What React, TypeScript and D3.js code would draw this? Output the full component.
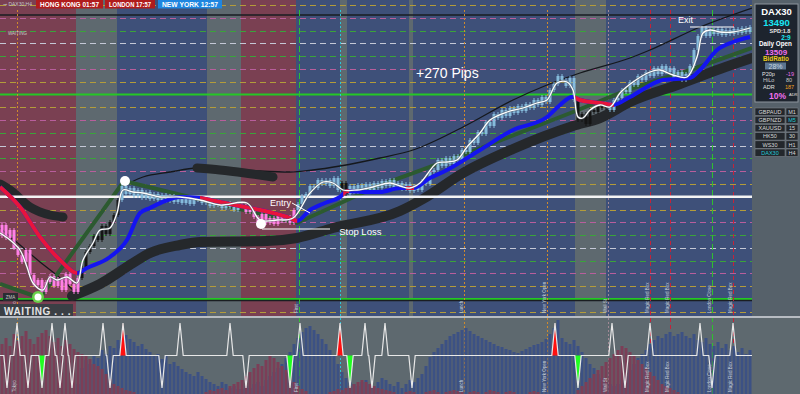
import React from 'react';
import * as d3 from 'd3';

// ---------- layout constants ----------
const WIDTH = 800;
const HEIGHT = 394;
const PLOT_RIGHT = 752;
const MAIN_BOTTOM = 316;
const IND_TOP = 318;
const BAR_COUNT = 188;

// ---------- data ----------
const priceDomain = [13200, 13516];

// session background bands (bar index ranges)
const bandStart = [0, 19, 29.25, 51.75, 60.25, 74, 85, 86.75, 102.25, 103.25, 143.75, 151.5];
const bandEnd = [19, 29.25, 51.75, 60.25, 74, 85, 86.75, 102.25, 103.25, 143.75, 151.5, 188];
const bandKind = ['asia', 'gap', 'ny', 'gap', 'asia', 'ny', 'gap', 'ny', 'gap', 'ny', 'gap', 'ny'];

// horizontal price levels
const levelPrices = [13511, 13498.2, 13485.4, 13472.7, 13459.9, 13447.1, 13434.3, 13421.5, 13408.8, 13396, 13383.2, 13370.4, 13357.6, 13344.9, 13332.1, 13319.3, 13306.5, 13293.7, 13280.9, 13268.2, 13255.4, 13242.6, 13229.8, 13217, 13204.2];
const levelKinds = ['olive', 'pink', 'green', 'white', 'green', 'pink', 'olive', 'solidGreen', 'olive', 'pink', 'green', 'white', 'green', 'pink', 'olive', 'entry', 'olive', 'pink', 'green', 'white', 'green', 'pink', 'olive', 'solidGreen', 'olive'];
const blackLevels = [13501, 13215.5];

// vertical session markers
const markerBars = [4.25, 74.75, 85, 116, 136.75, 152, 162.5, 167.5, 178, 183.25];
const markerKinds = ['orange', 'green', 'cyan', 'orange', 'orange', 'grey', 'red', 'red', 'green', 'red'];
const markerLabels = ['Tokyo', 'First', '', 'Lunch', 'New York Open', 'Wall St', 'Magic Red Box', 'Magic Red Box', 'London Close', 'Magic Red Box'];

// candle closes (open = previous close)
const firstOpen = 13280;
const closes = [
  13291, 13278, 13286, 13268, 13261, 13254, 13266, 13241, 13231, 13236,
  13224, 13234, 13240, 13230, 13237, 13226, 13242, 13232, 13224, 13238,
  13248, 13264, 13270, 13280, 13276, 13290, 13282, 13294, 13301, 13316,
  13330, 13322, 13328, 13320, 13326, 13318, 13324, 13317, 13322, 13316,
  13321, 13315, 13320, 13314, 13319, 13313, 13317, 13312, 13316, 13318,
  13313, 13317, 13310, 13315, 13311, 13308, 13313, 13309, 13306, 13311,
  13310, 13304, 13307, 13299, 13294, 13302, 13293, 13298, 13292, 13300,
  13295, 13299, 13293, 13306, 13312, 13320, 13322, 13330, 13328, 13336,
  13332, 13336, 13330, 13338, 13326, 13333, 13322, 13330, 13324, 13331,
  13325, 13332, 13326, 13333, 13328, 13335, 13330, 13336, 13328, 13333,
  13327, 13332, 13325, 13330, 13326, 13335, 13332, 13344, 13346, 13356,
  13350, 13358, 13352, 13360, 13356, 13366, 13364, 13376, 13373, 13384,
  13382, 13394, 13390, 13402, 13398, 13406, 13400, 13408, 13403, 13410,
  13405, 13412, 13408, 13416, 13411, 13419, 13414, 13426, 13432, 13440,
  13436, 13430, 13438, 13416, 13396, 13402, 13392, 13406, 13404, 13412,
  13408, 13412, 13406, 13416, 13418, 13426, 13424, 13434, 13431, 13440,
  13436, 13444, 13440, 13448, 13442, 13450, 13444, 13448, 13438, 13444,
  13436, 13442, 13450, 13466, 13480, 13488, 13480, 13486, 13482, 13487,
  13481, 13486, 13482, 13487, 13483, 13488, 13484, 13489,
];
const candleColorStart = [0, 20, 60, 85, 144];
const candleColorEnd = [20, 30, 74, 87, 152];
const candleColorKind = ['pink', 'black', 'pink', 'black', 'black'];

// smoothed price (white)
const whiteLine: [number, number][] = [
  [0, 13283], [2.5, 13276], [5, 13266], [6.75, 13249], [8.25, 13233], [10.75, 13226], [12.5, 13239], [14.25, 13236],
  [16.75, 13239], [19.25, 13233], [20.75, 13256], [23.25, 13273], [25, 13286], [27.5, 13288], [29.25, 13303], [30.75, 13326],
  [33.25, 13324], [35.75, 13323], [40, 13319], [45, 13319], [50, 13316], [55, 13311], [61.75, 13313], [65, 13296],
  [69.25, 13296], [73.25, 13298], [77.5, 13323], [80.75, 13334], [83.25, 13333], [85.75, 13326], [89.25, 13326], [93.25, 13329],
  [97.5, 13333], [100, 13330], [102.5, 13328], [105, 13333], [109.25, 13353], [111.75, 13354], [114.25, 13356], [116.75, 13369],
  [120, 13383], [122.5, 13396], [126.75, 13404], [130.75, 13408], [134.25, 13413], [136.75, 13416], [139.25, 13433], [141.75, 13434],
  [143.25, 13426], [144.5, 13399], [145.75, 13398], [147.5, 13406], [150, 13411], [152.5, 13409], [155, 13423], [158.25, 13434],
  [162.5, 13444], [165, 13446], [168.25, 13441], [171.75, 13439], [174.25, 13459], [175.75, 13483], [177.5, 13486], [180, 13484],
  [183.25, 13484], [187.5, 13488],
];

// moving average (blue, red while falling)
const maLine: [number, number][] = [
  [0, 13329], [5, 13309], [10, 13279], [15, 13256], [19.25, 13243], [21.75, 13248], [27.5, 13259], [31.75, 13276],
  [35, 13303], [37.5, 13308], [41.25, 13315], [45, 13319], [50, 13318], [53.75, 13315], [60, 13310], [66.25, 13305],
  [72.5, 13298], [74.25, 13295], [77.5, 13306], [81.25, 13313], [85, 13319], [86.75, 13325], [91.75, 13324], [95, 13324],
  [100, 13328], [103.25, 13328], [107.5, 13338], [111.75, 13346], [120, 13366], [128.25, 13386], [136.75, 13399], [140, 13411],
  [143, 13419], [145, 13416], [150, 13413], [153.25, 13411], [157.5, 13419], [165.75, 13436], [172.5, 13438], [175, 13446],
  [179.25, 13466], [183.25, 13474], [187.5, 13479],
];
const maRedStart = [0, 50, 85.8, 101.5, 143.5];
const maRedEnd = [19.3, 74.3, 87.3, 103.5, 153.5];

// zigzag trend (dark green)
const zigzagLine: [number, number][] = [
  [0, 13232], [10, 13218], [31, 13335], [74.25, 13293], [95, 13331], [115.75, 13361], [143.25, 13404], [157.5, 13427],
  [172.5, 13446], [188, 13468],
];

// slow average (thick black)
const slowLine: [number, number][] = [
  [18, 13220], [25, 13232], [33.25, 13253], [37.5, 13263], [45, 13271], [50, 13274], [66.75, 13275], [74.25, 13278],
  [83.25, 13288], [100, 13305], [105.75, 13317], [115.75, 13343], [128.25, 13367], [143.25, 13390], [150, 13398],
  [157.5, 13414], [170, 13432], [180, 13447], [188, 13458],
];
const slowArcA: [number, number][] = [[0, 13332], [2.5, 13326], [7.5, 13309], [12.5, 13301], [15.75, 13299]];
const slowArcB: [number, number][] = [[49.25, 13348], [55, 13346], [61.25, 13343], [68.25, 13339]];

// envelope (thin black)
const envUpper: [number, number][] = [
  [29.5, 13327], [35.75, 13339], [42.5, 13344], [49.25, 13348], [57.5, 13347], [65, 13345], [72.5, 13344], [78.25, 13346],
  [85, 13350], [95, 13358], [103.25, 13366], [115.75, 13389], [128.25, 13416], [136.75, 13431], [145, 13443], [157.5, 13458],
  [162.5, 13466], [175, 13489], [188, 13508],
];
const envLower: [number, number][] = [[0, 13288], [5, 13271], [10, 13254], [15, 13238], [18.75, 13224]];

// signal dots
const dotBars = [31.25, 65.25, 9.5];
const dotPrices = [13335, 13292, 13219];
const dotKinds = ['white', 'white', 'green'];

// indicator histograms
const blueHist = [
  0, 0, 0, 0, 0, 0, 0, 0, 0, 0,
  0, 0, 0, 0, 0, 0, 0, 0, 0, 10,
  26, 34, 30, 38, 36, 44, 40, 48, 46, 54,
  57, 59, 55, 52, 48, 50, 45, 42, 38, 40,
  35, 38, 30, 32, 28, 25, 22, 20, 18, 22,
  18, 15, 12, 10, 8, 12, 10, 6, 8, 5,
  5, 8, 6, 10, 12, 8, 14, 18, 22, 26,
  30, 36, 42, 50, 56, 62, 66, 68, 64, 60,
  55, 50, 44, 38, 30, 22, 16, 12, 10, 8,
  12, 14, 10, 8, 12, 16, 14, 10, 8, 12,
  6, 10, 14, 12, 16, 20, 28, 37, 42, 46,
  50, 54, 58, 60, 62, 64, 66, 63, 60, 58,
  56, 54, 52, 50, 48, 47, 45, 44, 42, 41,
  43, 45, 47, 49, 50, 52, 55, 60, 66, 74,
  56, 52, 50, 54, 48, 42, 36, 30, 26, 20,
  16, 12, 10, 8, 10, 14, 18, 24, 30, 36,
  40, 44, 50, 54, 58, 56, 60, 62, 58, 60,
  62, 58, 56, 60, 54, 52, 56, 50, 48, 52,
  46, 50, 44, 48, 42, 46, 40, 44,
];
const maroonHist = [
  50, 56, 48, 60, 53, 58, 63, 55, 50, 57,
  61, 64, 58, 52, 56, 48, 54, 50, 45, 42,
  40, 38, 35, 30, 28, 25, 20, 15, 10, 8,
  6, 4, 3, 2, 0, 0, 0, 0, 0, 0,
  0, 0, 0, 0, 0, 0, 0, 0, 0, 0,
  0, 2, 4, 3, 5, 6, 4, 8, 10, 12,
  14, 18, 22, 26, 30, 28, 34, 38, 36, 32,
  28, 24, 18, 12, 8, 5, 3, 0, 0, 0,
  0, 0, 2, 3, 5, 4, 6, 8, 10, 12,
  14, 12, 10, 8, 6, 5, 4, 3, 2, 0,
  0, 2, 3, 2, 0, 0, 2, 3, 4, 2,
  0, 2, 3, 4, 3, 2, 0, 2, 3, 2,
  0, 2, 4, 3, 2, 0, 2, 3, 2, 0,
  0, 0, 2, 3, 2, 0, 0, 0, 0, 0,
  0, 0, 0, 0, 4, 8, 12, 16, 20, 24,
  28, 32, 36, 40, 44, 48, 46, 42, 38, 34,
  30, 26, 22, 18, 14, 10, 8, 6, 4, 2,
  0, 0, 0, 0, 0, 0, 0, 0, 0, 0,
  0, 0, 0, 0, 0, 0, 0, 0,
];

// oscillator spikes [bar, direction, colour]
const spikeBars = [1.75, 4.25, 7, 10.5, 13, 15, 16.25, 18, 25.75, 27.5, 30.75, 40.5, 45, 57.5, 61.5, 72.5, 75, 85, 87.5, 91.25, 93, 96.25, 103, 138.75, 144.5, 153, 156.25, 162.5, 175, 178, 183.25];
const spikeDirs = [-1, 1, -1, -1, 1, -1, 1, -1, 1, -1, 1, -1, 1, 1, -1, -1, 1, 1, -1, 1, -1, 1, -1, 1, -1, 1, -1, 1, 1, -1, 1];
const spikeColors = ['w', 'w', 'w', 'g', 'w', 'w', 'w', 'w', 'w', 'w', 'r', 'w', 'w', 'w', 'w', 'g', 'w', 'r', 'g', 'w', 'w', 'w', 'w', 'r', 'g', 'w', 'w', 'w', 'w', 'w', 'w'];

// header sessions
const sessionNames = ['HONG KONG 01:57', 'LONDON 17:57', 'NEW YORK 12:57'];
const sessionColors = ['#b01c1c', '#b01c1c', '#1f86e0'];

// info panel
const symbols = ['GBPAUD', 'GBPNZD', 'XAUUSD', 'HK50', 'WS30', 'DAX30'];
const timeframes = ['M1', 'M5', '15', '30', 'H1', 'H4'];

// ---------- styles ----------
const bandColor: Record<string, string> = { asia: '#7a4052', gap: '#5e696f', ny: '#3e5079' };
const levelColor: Record<string, string> = { olive: '#b49c3a', pink: '#b85e9c', green: '#3aa43a', white: '#c4c8d6' };
const markerColor: Record<string, string> = { orange: '#d08a2c', green: '#2fc02f', cyan: '#2cc4d8', grey: '#a08894', red: '#c4233a' };
const markerDash: Record<string, string> = { orange: '2,2', green: '6,3', cyan: '2,2', grey: '2,2', red: '4,3' };
const candleFill: Record<string, string> = { pink: '#ff80e6', black: '#151515', blue: '#85bbdc' };
const FONT = "'Liberation Sans', Arial, sans-serif";
const sessionBoxX = [36, 105, 158];
const sessionBoxW = [67, 50, 64];

export default function App() {
  const x = d3.scaleLinear().domain([0, BAR_COUNT]).range([0, PLOT_RIGHT]);
  const y = d3.scaleLinear().domain(priceDomain).range([MAIN_BOTTOM, 0]);
  const hy = d3.scaleLinear().domain([0, 76]).range([HEIGHT, IND_TOP]);
  const zy = d3.scaleLinear().domain([-1, 1]).range([388, 323]);

  const smooth = d3.line<[number, number]>().x(d => x(d[0])).y(d => y(d[1])).curve(d3.curveMonotoneX);
  const catmull = d3.line<[number, number]>().x(d => x(d[0])).y(d => y(d[1])).curve(d3.curveCatmullRom.alpha(0.5));
  const straight = d3.line<[number, number]>().x(d => x(d[0])).y(d => y(d[1]));

  const candleKind = (i: number) => {
    for (let k = 0; k < candleColorStart.length; k++) {
      if (i >= candleColorStart[k] && i < candleColorEnd[k]) return candleColorKind[k];
    }
    return 'blue';
  };

  // zigzag oscillator path
  const zzPts: [number, number][] = [[0, 0]];
  spikeBars.forEach((b, i) => {
    zzPts.push([b - 0.8, 0], [b, spikeDirs[i]], [b + 0.8, 0]);
  });
  zzPts.push([BAR_COUNT, 0]);
  const zzLine = d3.line<[number, number]>().x(d => x(d[0])).y(d => zy(d[1]));

  const levelY = (p: number) => Math.round(y(p)) + 0.5;

  return (
    <svg width={WIDTH} height={HEIGHT} viewBox={`0 0 ${WIDTH} ${HEIGHT}`}
      style={{ position: 'absolute', left: 0, top: 0, display: 'block' }} fontFamily={FONT}>
      <defs>
        <clipPath id="mainClip"><rect x={0} y={0} width={PLOT_RIGHT} height={MAIN_BOTTOM} /></clipPath>
        <clipPath id="redClip">
          {maRedStart.map((s, i) => (
            <rect key={i} x={x(s)} y={0} width={x(maRedEnd[i]) - x(s)} height={MAIN_BOTTOM} />
          ))}
        </clipPath>
      </defs>

      {/* backgrounds */}
      <rect x={0} y={0} width={WIDTH} height={HEIGHT} fill="#5e696f" />
      <rect x={PLOT_RIGHT} y={0} width={WIDTH - PLOT_RIGHT} height={MAIN_BOTTOM} fill="#56616a" />
      {bandStart.map((s, i) => (
        <rect key={i} x={x(s)} y={0} width={x(bandEnd[i]) - x(s)} height={MAIN_BOTTOM} fill={bandColor[bandKind[i]]} />
      ))}

      {/* horizontal levels */}
      <g clipPath="url(#mainClip)">
        {levelPrices.map((p, i) => {
          const k = levelKinds[i];
          if (k === 'solidGreen') return <line key={i} x1={0} x2={PLOT_RIGHT} y1={y(p)} y2={y(p)} stroke="#25c825" strokeWidth={2} />;
          if (k === 'entry') return null;
          return <line key={i} x1={0} x2={PLOT_RIGHT} y1={levelY(p)} y2={levelY(p)} stroke={levelColor[k]} strokeWidth={1} strokeDasharray="6,4" />;
        })}
        {blackLevels.map((p, i) => (
          <line key={i} x1={0} x2={PLOT_RIGHT} y1={y(p)} y2={y(p)} stroke="#1a1d22" strokeWidth={1.5} />
        ))}
      </g>

      {/* vertical markers */}
      {markerBars.map((b, i) => (
        <line key={i} x1={Math.round(x(b)) + 0.5} x2={Math.round(x(b)) + 0.5} y1={10} y2={HEIGHT}
          stroke={markerColor[markerKinds[i]]} strokeWidth={1} strokeDasharray={markerDash[markerKinds[i]]} />
      ))}

      <g clipPath="url(#mainClip)">
        {/* envelope lines */}
        <path d={smooth(envUpper) || ''} fill="none" stroke="#15181c" strokeWidth={1.3} />
        <path d={smooth(envLower) || ''} fill="none" stroke="#15181c" strokeWidth={1.3} />
        {/* slow thick black */}
        <path d={smooth(slowLine) || ''} fill="none" stroke="#25282b" strokeWidth={10} strokeLinecap="round" />
        <path d={smooth(slowArcA) || ''} fill="none" stroke="#25282b" strokeWidth={9} strokeLinecap="round" />
        <path d={smooth(slowArcB) || ''} fill="none" stroke="#25282b" strokeWidth={9} strokeLinecap="round" />
        {/* zigzag */}
        <path d={straight(zigzagLine) || ''} fill="none" stroke="#2c5a30" strokeWidth={4} />

        {/* entry line */}
        <line x1={0} x2={PLOT_RIGHT} y1={y(13319.3)} y2={y(13319.3)} stroke="#f4f4f4" strokeWidth={2.5} />

        {/* candles */}
        {closes.map((c, i) => {
          const o = i === 0 ? firstOpen : closes[i - 1];
          const top = y(Math.max(o, c));
          const h = Math.max(1, Math.abs(y(o) - y(c)));
          const cx = x(i + 0.5);
          const fill = candleFill[candleKind(i)];
          return (
            <g key={i}>
              <line x1={cx} x2={cx} y1={top - 2} y2={top + h + 2} stroke={fill} strokeWidth={1} />
              <rect x={cx - 1.5} y={top} width={3} height={h} fill={fill} />
            </g>
          );
        })}

        {/* moving average */}
        <path d={smooth(maLine) || ''} fill="none" stroke="#1414f0" strokeWidth={4} />
        <path d={smooth(maLine) || ''} fill="none" stroke="#e8143c" strokeWidth={4} clipPath="url(#redClip)" />

        {/* white smoothed price */}
        <path d={catmull(whiteLine) || ''} fill="none" stroke="#55606a" strokeWidth={2.6} opacity={0.6} />
        <path d={catmull(whiteLine) || ''} fill="none" stroke="#ffffff" strokeWidth={1.3} />

        {/* dots */}
        {dotBars.map((b, i) => dotKinds[i] === 'green' ? (
          <g key={i}>
            <circle cx={x(b)} cy={y(dotPrices[i])} r={6} fill="#6ad04a" />
            <circle cx={x(b)} cy={y(dotPrices[i])} r={3.5} fill="#ffffff" />
          </g>
        ) : (
          <circle key={i} cx={x(b)} cy={y(dotPrices[i])} r={5} fill="#ffffff" />
        ))}

        {/* annotations */}
        <text x={x(67.5)} y={y(13310)} fill="#ffffff" fontSize={9}>Entry</text>
        <line x1={x(73)} x2={x(77.5)} y1={y(13313)} y2={y(13303)} stroke="#ffffff" strokeWidth={1} />
        <line x1={x(65.5)} x2={x(82.5)} y1={y(13287)} y2={y(13287)} stroke="#ffffff" strokeWidth={1.2} />
        <text x={x(84.8)} y={y(13281)} fill="#ffffff" fontSize={9.5}>Stop Loss</text>
        <text x={x(104)} y={y(13438)} fill="#ffffff" fontSize={14}>+270 Pips</text>
        <text x={x(169.5)} y={y(13493)} fill="#ffffff" fontSize={9}>Exit</text>
        <line x1={x(172.5)} x2={x(183.5)} y1={y(13489)} y2={y(13489)} stroke="#ffffff" strokeWidth={1.2} />

        {/* vertical labels in main pane */}
        {markerBars.map((b, i) => markerLabels[i] ? (
          <text key={i} transform={`translate(${x(b) - 1},${MAIN_BOTTOM - 3}) rotate(-90)`} fontSize={4.5} fill="#c9d0dc">{markerLabels[i]}</text>
        ) : null)}
      </g>

      {/* header */}
      <text x={3} y={6} fontSize={5} fill="#c0c4cc">⊸ DAX30,H4</text>
      {sessionNames.map((n, i) => (
        <g key={i}>
          <rect x={sessionBoxX[i]} y={0} width={sessionBoxW[i]} height={8.5} fill={sessionColors[i]} />
          <text x={sessionBoxX[i] + 4} y={7} fontSize={7} fontWeight="bold" fill="#ffffff"
            textLength={sessionBoxW[i] - 8} lengthAdjust="spacingAndGlyphs">{n}</text>
        </g>
      ))}
      <text x={8} y={35} fontSize={4.5} fill="#c8c8c8">WAITING</text>

      {/* bottom-left boxes */}
      <rect x={3} y={293} width={15} height={8} fill="#2a2e33" />
      <text x={10.5} y={299} textAnchor="middle" fontSize={4.5} fill="#c8c8c8">ZMA</text>
      <rect x={0} y={304} width={73} height={12} fill="#3a3f45" />
      <text x={4} y={314.5} fontSize={10} fontWeight="bold" fill="#e4e4e4" letterSpacing={0.6}>WAITING . . .</text>

      {/* pane separator */}
      <rect x={0} y={MAIN_BOTTOM} width={WIDTH} height={2} fill="#b7bcc2" />

      {/* indicator pane */}
      <g>
        {blueHist.map((v, i) => v > 0 ? (
          <rect key={'b' + i} x={x(i) + 0.5} y={hy(v)} width={3} height={HEIGHT - hy(v)} fill="#3c5184" />
        ) : null)}
        {maroonHist.map((v, i) => v > 0 ? (
          <rect key={'m' + i} x={x(i) + 0.5} y={hy(v)} width={3} height={HEIGHT - hy(v)} fill="#7c3e57" />
        ) : null)}
        {spikeBars.map((b, i) => spikeColors[i] !== 'w' ? (
          <path key={'s' + i}
            d={`M${x(b - 0.8)},${zy(0)}L${x(b)},${zy(spikeDirs[i])}L${x(b + 0.8)},${zy(0)}Z`}
            fill={spikeColors[i] === 'r' ? '#ff1010' : '#20ff20'} />
        ) : null)}
        <path d={zzLine(zzPts) || ''} fill="none" stroke="#e8e8e8" strokeWidth={1.2} />
        {markerBars.map((b, i) => markerLabels[i] ? (
          <text key={i} transform={`translate(${x(b) - 1},${HEIGHT - 2}) rotate(-90)`} fontSize={4.5} fill="#c9d0dc">{markerLabels[i]}</text>
        ) : null)}
      </g>

      {/* info panel */}
      <rect x={755} y={4} width={43} height={98} fill="#1d242e" stroke="#8c949c" strokeWidth={1} />
      <text x={776.5} y={15} textAnchor="middle" fontSize={9.5} fontWeight="bold" fill="#ffffff">DAX30</text>
      <text x={776.5} y={25.5} textAnchor="middle" fontSize={9.5} fontWeight="bold" fill="#18e6f2">13490</text>
      <text x={780} y={32.5} textAnchor="middle" fontSize={5.5} fontWeight="bold" fill="#e8e8e8">SPD:1.8</text>
      <text x={786} y={39.5} textAnchor="middle" fontSize={6.5} fontWeight="bold" fill="#18e6f2">2:9</text>
      <text x={775.5} y={46} textAnchor="middle" fontSize={6.3} fontWeight="bold" fill="#ffffff">Daily Open</text>
      <text x={776} y={54.5} textAnchor="middle" fontSize={8} fontWeight="bold" fill="#f070f0">13509</text>
      <text x={776} y={61} textAnchor="middle" fontSize={6.3} fontWeight="bold" fill="#e8c81a">BidRatio</text>
      <rect x={765} y={62.5} width={21} height={7} fill="#5a7590" />
      <text x={775.5} y={68.5} textAnchor="middle" fontSize={7} fill="#c8d4e0">28%</text>
      <text x={762} y={75.5} fontSize={5.5} fill="#e4e4e4">P20p</text>
      <text x={786} y={75.5} fontSize={5.5} fill="#f070f0">-19</text>
      <text x={763} y={82} fontSize={5.5} fill="#c8c8c8">HiLo</text>
      <text x={786} y={82} fontSize={5.5} fill="#c8c8c8">80</text>
      <text x={763} y={88.5} fontSize={5.5} fill="#e4e4e4">ADR</text>
      <text x={785} y={88.5} fontSize={5.5} fill="#f0a020">187</text>
      <text x={769} y={99} fontSize={8.5} fontWeight="bold" fill="#f070f0">10%</text>
      <text x={789} y={96} fontSize={4} fill="#e4e4e4">ADR</text>

      {symbols.map((s, i) => {
        const ry = 108 + i * 8.2;
        return (
          <g key={s}>
            <rect x={755} y={ry} width={30} height={7.5} fill="#23272c" stroke="#7a8088" strokeWidth={0.6} />
            <text x={770} y={ry + 5.8} textAnchor="middle" fontSize={5.5} fill={s === 'DAX30' ? '#22c8d8' : '#d8d8d8'}>{s}</text>
            <rect x={786} y={ry} width={12} height={7.5} fill="#23272c" stroke="#7a8088" strokeWidth={0.6} />
            <text x={792} y={ry + 5.8} textAnchor="middle" fontSize={5.5} fill={timeframes[i] === 'M5' ? '#22c8d8' : '#d8d8d8'}>{timeframes[i]}</text>
          </g>
        );
      })}
    </svg>
  );
}
